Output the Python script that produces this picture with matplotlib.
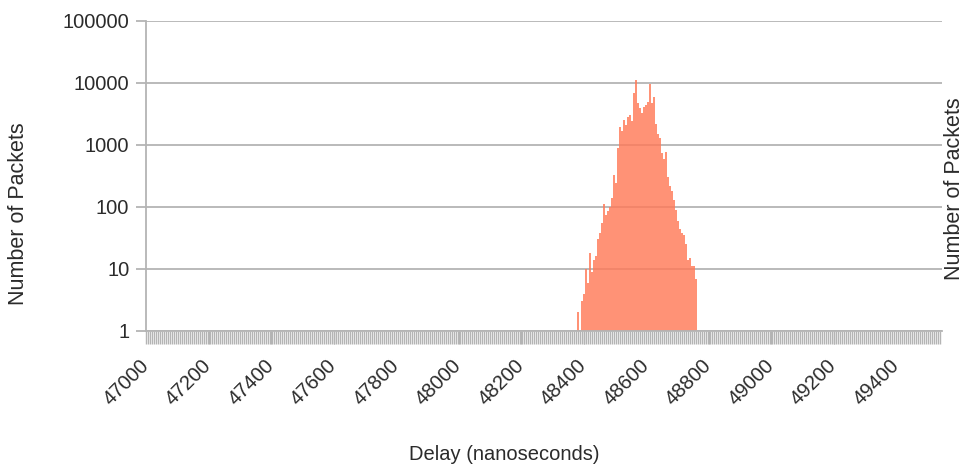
import numpy as np
import matplotlib.pyplot as plt
from matplotlib.ticker import FixedLocator

plt.rcParams['font.family'] = ['Liberation Sans', 'DejaVu Sans']

# histogram bins: 6.4 ns wide, starting at 48380 ns
bin_width = 6.4
bin_start = 48380
packet_counts = [
    2, 1, 3, 4, 10, 6, 18, 9, 14, 16,
    30, 38, 55, 110, 75, 85, 100, 140, 330, 240,
    900, 1950, 1700, 2500, 2100, 2800, 3000, 2400, 6900, 11000,
    4800, 3900, 3300, 4100, 4500, 5000, 9600, 4800, 6000, 2200,
    1500, 1300, 750, 600, 770, 300, 220, 180, 130, 90,
    60, 45, 38, 35, 25, 14, 15, 11, 11, 7,
]
delays = bin_start + bin_width * np.arange(len(packet_counts))

x_major = list(range(47000, 49401, 200))
y_major = [1, 10, 100, 1000, 10000, 100000]
y_labels = ["1", "10", "100", "1000", "10000", "100000"]

grey = "#b4b4b4"
txt = "#2b2b2b"

fig = plt.figure(figsize=(9.6, 4.68), dpi=100)
ax = fig.add_axes([146 / 960, 1 - 331 / 468, 796 / 960, 310 / 468])

ax.bar(delays, [c - 1 for c in packet_counts], bottom=1, width=bin_width * 0.85,
       align="edge", color="#ff7a58", alpha=0.82, linewidth=0, zorder=2)

ax.set_yscale("log")
ax.set_ylim(1, 100000)
ax.set_xlim(47000, 49547)

ax.yaxis.set_major_locator(FixedLocator(y_major))
ax.set_yticklabels(y_labels)
ax.yaxis.set_minor_locator(FixedLocator([]))
ax.grid(axis="y", color=grey, linewidth=1.3, zorder=1)

ax.xaxis.set_major_locator(FixedLocator(x_major))
ax.set_xticklabels([str(v) for v in x_major], rotation=45, ha="right",
                   va="center", rotation_mode="anchor")
ax.xaxis.set_minor_locator(FixedLocator(np.arange(47000, 49547, bin_width)))

ax.tick_params(axis="x", which="both", length=9, width=1, color=grey,
               labelsize=14.5, labelcolor=txt, pad=14)
ax.tick_params(axis="y", which="major", length=7, width=1.3, color=grey,
               labelsize=14.5, labelcolor=txt, pad=5)

for s in ["top", "right"]:
    ax.spines[s].set_visible(False)
for s in ["left", "bottom"]:
    ax.spines[s].set_color(grey)
    ax.spines[s].set_linewidth(1.3)

# axis titles placed like the original (not centred on the plot area)
fig.text(504 / 960, 1 - 455 / 468, "Delay (nanoseconds)", ha="center",
         va="center", fontsize=14.5, color=txt)
fig.text(19 / 960, 1 - 214 / 468, "Number of Packets", rotation=90,
         ha="center", va="center", fontsize=15.5, color=txt)
fig.text(944 / 960, 1 - 189 / 468, "Number of Packets", rotation=90,
         ha="left", va="center", fontsize=15.5, color=txt)

fig.savefig("out.png", dpi=100, facecolor="white")
